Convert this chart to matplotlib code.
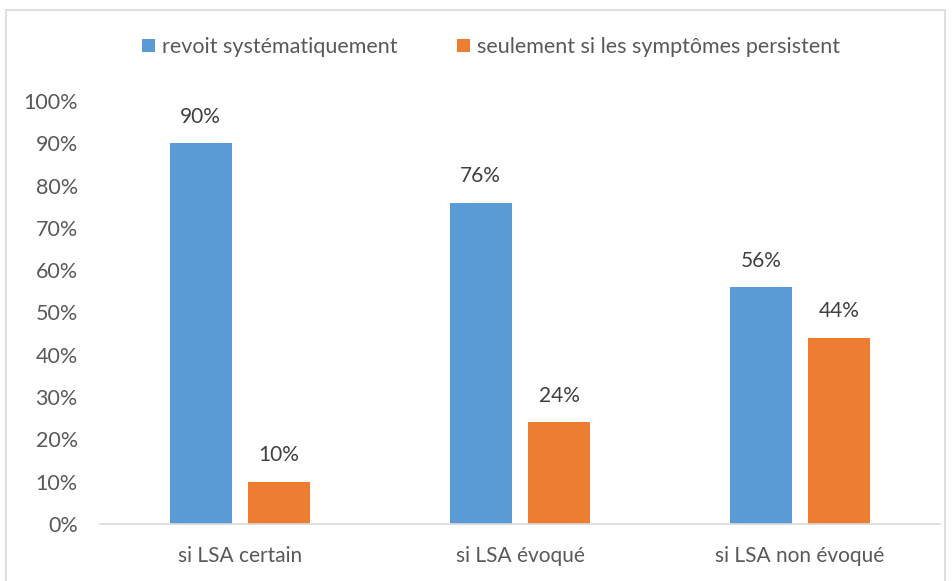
import matplotlib
matplotlib.use("Agg")
import matplotlib.pyplot as plt
from matplotlib.patches import Rectangle
import numpy as np

categories = ["si LSA certain", "si LSA évoqué", "si LSA non évoqué"]
series_names = ["revoit systématiquement", "seulement si les symptômes persistent"]
systematique = [90, 76, 56]
persistent = [10, 24, 44]
yticks = [0, 10, 20, 30, 40, 50, 60, 70, 80, 90, 100]

plt.rcParams['font.family'] = ['Lato', 'DejaVu Sans']

W, H = 953, 581
fig = plt.figure(figsize=(W / 100, H / 100), dpi=100)
fig.patch.set_facecolor('white')

# outer chart border
fig.add_artist(Rectangle((6 / W, -0.05), (945 - 6) / W, (H - 10) / H + 0.05,
                         transform=fig.transFigure, fill=False,
                         edgecolor='#D9D9D9', linewidth=1.2))

ax = fig.add_axes([100 / W, (H - 524) / H, (940 - 100) / W, (524 - 101) / H])
x = np.arange(len(categories))
bw = 0.221
off = 0.14
c1, c2 = '#5B9BD5', '#ED7D31'
b1 = ax.bar(x - off, systematique, bw, color=c1, label=series_names[0])
b2 = ax.bar(x + off, persistent, bw, color=c2, label=series_names[1])

for bars, vals in ((b1, systematique), (b2, persistent)):
    for r, v in zip(bars, vals):
        ax.annotate(f"{v}%", (r.get_x() + r.get_width() / 2, v),
                    xytext=(0, 19), textcoords='offset points',
                    ha='center', va='center', fontsize=15, color='#404040')

ax.set_xlim(-0.5, 2.5)
ax.set_ylim(0, 100)
ax.set_yticks(yticks)
ax.set_yticklabels([f"{t}%" for t in yticks])
ax.set_xticks(x)
ax.set_xticklabels(categories)
for s in ['top', 'right', 'left']:
    ax.spines[s].set_visible(False)
ax.spines['bottom'].set_color('#D9D9D9')
ax.spines['bottom'].set_linewidth(1.2)
ax.tick_params(axis='y', length=0, labelsize=15.5, labelcolor='#595959', pad=16)
ax.tick_params(axis='x', length=0, labelsize=15, labelcolor='#595959', pad=16)

leg = fig.legend(loc='center', bbox_to_anchor=(491 / W, (H - 47) / H), ncol=2,
                 frameon=False, fontsize=15.5, handlelength=0.6, handleheight=0.6,
                 handletextpad=0.3, columnspacing=2.8)
for t in leg.get_texts():
    t.set_color('#595959')

fig.savefig('out.png', dpi=100)
